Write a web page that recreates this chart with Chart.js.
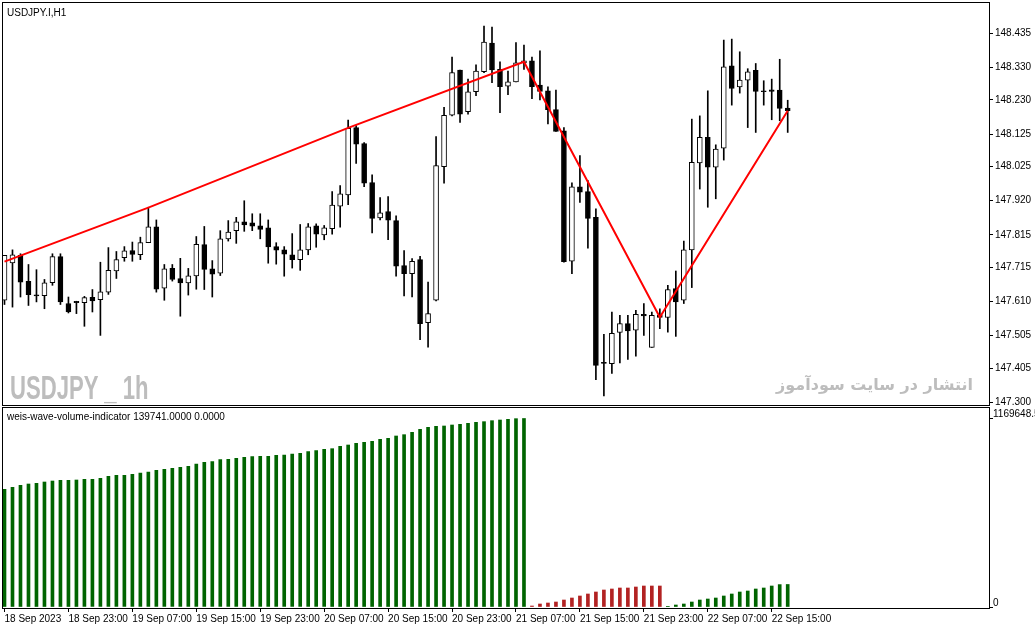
<!DOCTYPE html>
<html>
<head>
<meta charset="utf-8">
<title>USDJPY.I,H1</title>
<script src="https://cdn.jsdelivr.net/npm/chart.js@4.4.0/dist/chart.umd.min.js"></script>
<style>
html, body { margin: 0; padding: 0; background: #fff; }
#wrap { position: relative; width: 1035px; height: 629px; overflow: hidden; }
#mainBox { position: absolute; left: 0; top: 0; width: 1035px; height: 406px; }
#volBox { position: absolute; left: 0; top: 406px; width: 1035px; height: 223px; }
.lbl { position: absolute; white-space: nowrap; line-height: 1; }
.small { font: 10px 'Liberation Sans', sans-serif; color: #000; }
#symbolMark { left: 10px; top: 369px; font: bold 33px 'Liberation Sans', sans-serif; color: #bdbdbd;
    transform: scaleX(0.67); transform-origin: 0 0; }
#siteMark { right: 62px; top: 375px; font: bold 16px 'DejaVu Sans', sans-serif; color: #bdbdbd; direction: rtl; }
</style>
</head>
<body>
<div id="wrap">
    <div id="mainBox"><canvas id="mainChart"></canvas></div>
    <div id="volBox"><canvas id="volChart"></canvas></div>
    <div class="lbl small" style="left:7px; top:7px;">USDJPY.I,H1</div>
    <div class="lbl" id="symbolMark">USDJPY _ 1h</div>
    <div class="lbl" id="siteMark">انتشار در سایت سودآموز</div>
    <div class="lbl small" style="left:7px; top:411px;">weis-wave-volume-indicator 139741.0000 0.0000</div>
</div>
<script>
// H1 candles, 18 Sep 2023 15:00 .. 22 Sep 2023 17:00
const opens = [
    147.614, 147.729, 147.752, 147.672, 147.631, 147.628, 147.668, 147.748, 147.604, 147.611,
    147.607, 147.623, 147.616, 147.639, 147.704, 147.745, 147.767, 147.754, 147.791, 147.840,
    147.651, 147.712, 147.681, 147.667, 147.689, 147.785, 147.711, 147.697, 147.803, 147.828,
    147.855, 147.852, 147.843, 147.837, 147.779, 147.769, 147.754, 147.739, 147.769, 147.843,
    147.815, 147.834, 147.903, 147.938, 148.145, 148.096, 147.976, 147.867, 147.887, 147.859,
    147.721, 147.696, 147.739, 147.545, 147.614, 148.025, 148.183, 148.322, 148.194, 148.255,
    148.317, 148.405, 148.324, 148.272, 148.285, 148.344, 148.350, 148.276, 148.258, 148.200,
    148.135, 147.734, 147.963, 147.948, 147.869, 147.420, 147.419, 147.515, 147.542, 147.522,
    147.571, 147.469, 147.568, 147.561, 147.650, 147.614, 147.769, 148.036, 148.115, 148.023,
    148.082, 148.335, 148.270, 148.291, 148.321, 148.258, 148.261, 148.260, 148.205
];
const highs = [
    147.752, 147.769, 147.757, 147.724, 147.708, 147.678, 147.757, 147.757, 147.624, 147.611,
    147.626, 147.647, 147.731, 147.776, 147.764, 147.779, 147.793, 147.808, 147.900, 147.861,
    147.724, 147.724, 147.743, 147.712, 147.810, 147.841, 147.736, 147.828, 147.859, 147.869,
    147.920, 147.880, 147.880, 147.861, 147.791, 147.779, 147.819, 147.847, 147.850, 147.849,
    147.844, 147.948, 147.967, 148.168, 148.151, 148.099, 148.000, 147.930, 147.933, 147.874,
    147.767, 147.742, 147.749, 147.670, 148.117, 148.207, 148.362, 148.322, 148.294, 148.338,
    148.457, 148.454, 148.347, 148.319, 148.406, 148.399, 148.362, 148.381, 148.270, 148.260,
    148.145, 147.975, 148.059, 147.982, 147.895, 147.509, 147.578, 147.568, 147.568, 147.583,
    147.604, 147.578, 147.588, 147.660, 147.704, 147.796, 148.171, 148.181, 148.258, 148.092,
    148.414, 148.417, 148.378, 148.326, 148.342, 148.289, 148.294, 148.355, 148.229
];
const lows = [
    147.601, 147.593, 147.624, 147.598, 147.609, 147.588, 147.660, 147.601, 147.575, 147.573,
    147.534, 147.578, 147.506, 147.632, 147.681, 147.734, 147.734, 147.739, 147.791, 147.639,
    147.614, 147.673, 147.565, 147.630, 147.648, 147.647, 147.624, 147.690, 147.796, 147.789,
    147.826, 147.828, 147.803, 147.728, 147.725, 147.688, 147.713, 147.706, 147.754, 147.777,
    147.800, 147.817, 147.839, 147.908, 148.035, 147.963, 147.821, 147.861, 147.800, 147.688,
    147.627, 147.624, 147.493, 147.470, 147.612, 147.974, 148.181, 148.161, 148.186, 148.243,
    148.314, 148.283, 148.191, 148.246, 148.285, 148.324, 148.234, 148.230, 148.156, 148.133,
    147.731, 147.696, 147.915, 147.774, 147.370, 147.320, 147.389, 147.421, 147.432, 147.442,
    147.506, 147.469, 147.527, 147.516, 147.503, 147.604, 147.653, 147.956, 147.900, 147.926,
    148.045, 148.214, 148.251, 148.145, 148.130, 148.214, 148.169, 148.166, 148.130
];
const closes = [
    147.752, 147.754, 147.670, 147.631, 147.627, 147.668, 147.748, 147.609, 147.578, 147.607,
    147.622, 147.612, 147.640, 147.706, 147.739, 147.766, 147.755, 147.791, 147.840, 147.648,
    147.711, 147.678, 147.667, 147.689, 147.786, 147.709, 147.694, 147.803, 147.824, 147.855,
    147.846, 147.842, 147.832, 147.778, 147.768, 147.756, 147.739, 147.769, 147.840, 147.817,
    147.837, 147.907, 147.941, 148.143, 148.094, 147.974, 147.866, 147.883, 147.860, 147.719,
    147.696, 147.734, 147.542, 147.573, 148.028, 148.183, 148.314, 148.186, 148.255, 148.319,
    148.408, 148.322, 148.271, 148.286, 148.344, 148.350, 148.271, 148.256, 148.200, 148.133,
    147.733, 147.963, 147.946, 147.866, 147.414, 147.420, 147.512, 147.542, 147.520, 147.571,
    147.566, 147.568, 147.561, 147.647, 147.609, 147.769, 148.038, 148.115, 148.023, 148.079,
    148.332, 148.265, 148.291, 148.316, 148.256, 148.255, 148.256, 148.204, 148.197
];

// zigzag pivots (bar index, price)
const zzIndex = [0, 18, 43, 65, 82, 98];
const zzPrice = [147.733, 147.899, 148.144, 148.347, 147.562, 148.197];

// weis wave cumulative volume per bar
const waveVolume = [
    730100, 742500, 755000, 763200, 767400, 775600, 781800, 786000, 786000, 788000,
    792200, 792200, 798400, 810800, 817000, 817000, 823200, 831500, 837700, 848000,
    854200, 860400, 866600, 872900, 887300, 897600, 901800, 914200, 916300, 922500,
    928700, 932800, 934900, 934900, 941100, 943200, 949400, 953500, 963800, 970000,
    978300, 982400, 996900, 1005200, 1015500, 1021800, 1028000, 1040400, 1046600, 1061100,
    1069300, 1083800, 1102400, 1114800, 1121100, 1123100, 1129300, 1133500, 1139700, 1145900,
    1150000, 1156200, 1160300, 1164500, 1168600, 1169648.5,
    6200, 18600, 24800, 31000, 43400, 55800, 68300, 80700, 93100, 105500,
    111700, 117900, 117900, 124100, 130300, 130300, 130300,
    2000, 12400, 18600, 31000, 43400, 49600, 55800, 68300, 80700, 93100,
    99300, 111700, 117900, 130300, 139000, 139741
];
// last bar of each wave and its direction
const waveEnd = [65, 82, 98];
const waveUp = [true, false, true];

// axis labels
const priceTicks = [148.435, 148.330, 148.230, 148.125, 148.025, 147.920, 147.815, 147.715, 147.610, 147.505, 147.405, 147.300];
const volTicks = [0, 1169648.5];
const timeTickIndex = [0, 8, 16, 24, 32, 40, 48, 56, 64, 72, 80, 88, 96];
const timeTickText = ['18 Sep 2023', '18 Sep 23:00', '19 Sep 07:00', '19 Sep 15:00', '19 Sep 23:00',
    '20 Sep 07:00', '20 Sep 15:00', '20 Sep 23:00', '21 Sep 07:00', '21 Sep 15:00',
    '21 Sep 23:00', '22 Sep 07:00', '22 Sep 15:00'];

Chart.defaults.font.family = "'Liberation Sans', sans-serif";
Chart.defaults.font.size = 10;
Chart.defaults.color = '#000';

// x range: 8px per bar, chart shifted to leave empty space on the right
const X_MIN = -0.1875;
const X_MAX = 123.1875;

// black frame round the plot area, like the terminal window
const framePlugin = {
    id: 'frame',
    afterDraw(chart) {
        const a = chart.chartArea;
        const ctx = chart.ctx;
        ctx.save();
        ctx.strokeStyle = '#000';
        ctx.lineWidth = 1;
        ctx.strokeRect(Math.round(a.left) - 0.5, Math.round(a.top) - 0.5,
            Math.round(a.right - a.left) + 1, Math.round(a.bottom - a.top) + 1);
        ctx.restore();
    }
};

function waveColor(i) {
    for (let w = 0; w < waveEnd.length; w++) {
        if (i <= waveEnd[w]) return waveUp[w] ? '#006400' : '#b22222';
    }
    return '#006400';
}

function rightAxis(min, max, ticks, fmt, labelOffset, pad) {
    return {
        position: 'right',
        min: min,
        max: max,
        afterFit: s => { s.width = 46; s.paddingTop = 0; s.paddingBottom = 0; },
        afterBuildTicks: s => { s.ticks = ticks.map(v => ({ value: v })); },
        ticks: { callback: fmt, padding: pad === undefined ? 2 : pad, labelOffset: labelOffset || 0 },
        grid: { drawOnChartArea: false, drawTicks: true, tickLength: 4, color: '#000' },
        border: { display: false }
    };
}

function timeAxis(show) {
    return {
        type: 'linear',
        min: X_MIN,
        max: X_MAX,
        offset: false,
        display: show,
        afterFit: s => {
            s.paddingLeft = 0;
            s.paddingRight = 0;
            if (show) s.height = 21;
        },
        afterBuildTicks: s => { s.ticks = timeTickIndex.map(v => ({ value: v })); },
        ticks: {
            callback: v => timeTickText[timeTickIndex.indexOf(v)],
            align: 'start',
            maxRotation: 0,
            autoSkip: false,
            padding: 1
        },
        grid: { offset: false, drawOnChartArea: false, drawTicks: true, tickLength: 4, color: '#000' },
        border: { display: false }
    };
}

// Create candlestick chart with zigzag
function createMainChart() {
    const ctx = document.getElementById('mainChart').getContext('2d');
    const wicks = highs.map((h, i) => ({ x: i, y: [lows[i], h] }));
    const bodies = opens.map((o, i) => ({ x: i, y: [o, closes[i]] }));
    const zigzag = zzIndex.map((x, k) => ({ x: x, y: zzPrice[k] }));

    new Chart(ctx, {
        type: 'bar',
        data: {
            datasets: [
                {
                    type: 'line',
                    label: 'ZigZag',
                    data: zigzag,
                    borderColor: '#ff0000',
                    borderWidth: 2,
                    pointRadius: 0,
                    tension: 0,
                    order: 0
                },
                {
                    label: 'Body',
                    data: bodies,
                    grouped: false,
                    barThickness: 5,
                    minBarLength: 1,
                    borderWidth: 1,
                    borderSkipped: false,
                    borderColor: '#000',
                    backgroundColor: c => closes[c.dataIndex] > opens[c.dataIndex] ? '#fff' : '#000',
                    order: 1
                },
                {
                    label: 'Wick',
                    data: wicks,
                    grouped: false,
                    barThickness: 1,
                    backgroundColor: '#000',
                    order: 2
                }
            ]
        },
        options: {
            responsive: true,
            maintainAspectRatio: false,
            animation: false,
            layout: { padding: { left: 3, top: 3, right: 0, bottom: 1 } },
            plugins: { legend: { display: false }, tooltip: { enabled: false } },
            scales: {
                x: timeAxis(false),
                y: rightAxis(147.292, 148.528, priceTicks, v => v.toFixed(3))
            }
        },
        plugins: [framePlugin]
    });
}

// Create weis wave volume histogram
function createVolumeChart() {
    const ctx = document.getElementById('volChart').getContext('2d');
    const bars = waveVolume.map((v, i) => ({ x: i, y: v }));

    new Chart(ctx, {
        type: 'bar',
        data: {
            datasets: [
                {
                    label: 'weis-wave-volume-indicator',
                    data: bars,
                    barThickness: 3,
                    backgroundColor: c => waveColor(c.dataIndex)
                }
            ]
        },
        options: {
            responsive: true,
            maintainAspectRatio: false,
            animation: false,
            layout: { padding: { left: 3, top: 2, right: 0, bottom: 0 } },
            plugins: { legend: { display: false }, tooltip: { enabled: false } },
            scales: {
                x: timeAxis(true),
                y: rightAxis(-6200, 1234800, volTicks, v => v === 0 ? '0' : '1169648.5', -4, 0)
            }
        },
        plugins: [framePlugin]
    });
}

createMainChart();
createVolumeChart();
</script>
</body>
</html>
